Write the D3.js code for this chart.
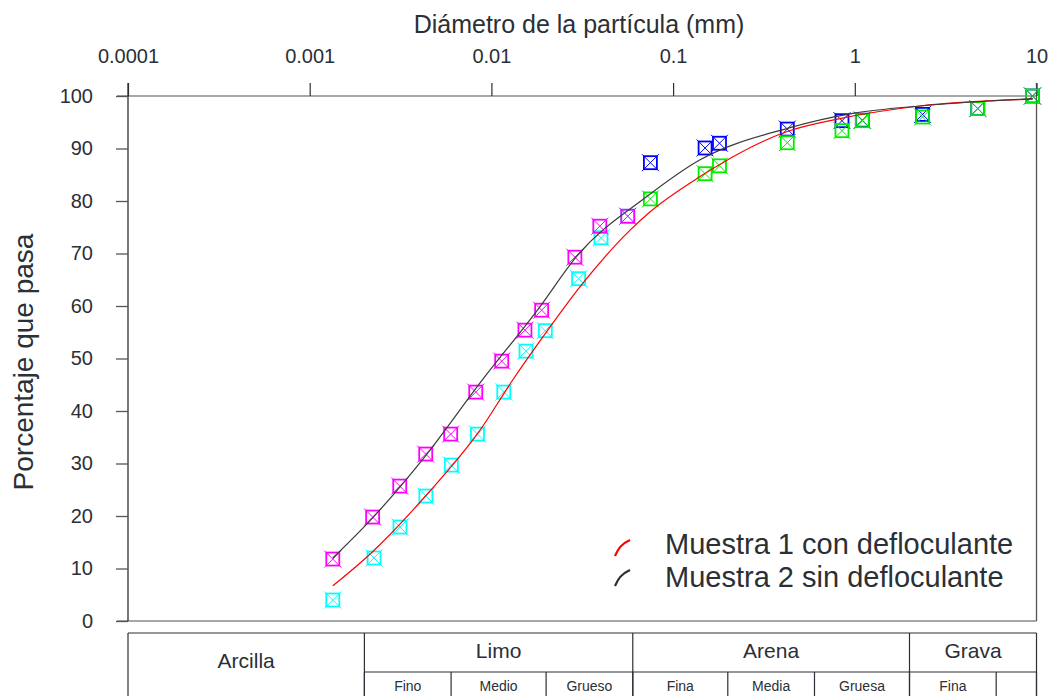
<!doctype html>
<html>
  <head>
    <meta charset="utf-8">
    <title>Curva granulométrica</title>
    <style>
      body { margin: 0; background: #fff; }
      text { font-family: "Liberation Sans", Arial, sans-serif; fill: #2b2f36; }
    </style>
  </head>
  <body>
    <div id="chart"></div>

    <script src="https://d3js.org/d3.v7.min.js"></script>
    <script>
      // tamices (mm) y porcentaje que pasa
      var sieveSizes = [0.075, 0.15, 0.18, 0.425, 0.85, 1.1, 2.36, 4.75, 9.5];
      var sievePasa1 = [80.4, 85.2, 86.7, 91.1, 93.4, 95.3, 96.0, 97.6, 100];
      var sievePasa2 = [87.3, 90.1, 91.0, 93.7, 95.3, 95.4, 96.5, 97.6, 100];

      // hidrómetro
      var hidroDiam1 = [0.00134, 0.00226, 0.00314, 0.00436, 0.00602, 0.00838, 0.0117, 0.0155, 0.0198, 0.0302, 0.0401, 0.0563];
      var hidroPasa1 = [4.0, 12.0, 17.9, 23.8, 29.7, 35.6, 43.6, 51.4, 55.3, 65.2, 73.0, 77.1];
      var hidroDiam2 = [0.00134, 0.00222, 0.00313, 0.00435, 0.00597, 0.0082, 0.0114, 0.0153, 0.0189, 0.0288, 0.0395, 0.0563];
      var hidroPasa2 = [11.8, 19.8, 25.7, 31.8, 35.6, 43.6, 49.5, 55.4, 59.2, 69.3, 75.2, 77.1];

      // curvas ajustadas
      var curvaDiam1 = [0.00134, 0.00222, 0.00439, 0.00864, 0.0131, 0.0192, 0.0318, 0.0578, 0.0745, 0.14, 0.421, 0.828, 2.28, 9.54];
      var curvaPasa1 = [6.7, 13.2, 24.0, 36.3, 45.9, 54.1, 64.3, 74.4, 77.9, 84.6, 93.2, 95.7, 98.1, 99.4];
      var curvaDiam2 = [0.00134, 0.00224, 0.00435, 0.00864, 0.01845, 0.0294, 0.0714, 0.14, 0.421, 0.975, 2.28, 4.68, 9.54];
      var curvaPasa2 = [12.0, 19.8, 31.5, 45.3, 59.8, 69.4, 80.8, 87.8, 93.8, 96.7, 98.1, 98.9, 99.5];

      var xTicks = [0.0001, 0.001, 0.01, 0.1, 1, 10];
      var xTickLabels = ['0.0001', '0.001', '0.01', '0.1', '1', '10'];
      var yTicks = [0, 10, 20, 30, 40, 50, 60, 70, 80, 90, 100];

      var legendLabels = ['Muestra 1 con defloculante', 'Muestra 2 sin defloculante'];

      // clasificación del suelo
      var grupos = ['Arcilla', 'Limo', 'Arena', 'Grava'];
      var gruposLimites = [0.0001, 0.002, 0.06, 2, 10];
      var subgrupos = ['Fino', 'Medio', 'Grueso', 'Fina', 'Media', 'Gruesa', 'Fina', ''];
      var subLimites = [0.002, 0.006, 0.02, 0.06, 0.2, 0.6, 2, 6, 10];

      var width = 1049;
      var height = 696;

      var svg = d3.select('#chart')
        .append('svg')
        .attr('width', width)
        .attr('height', height);

      var x = d3.scaleLog()
        .domain([0.0001, 10])
        .range([128, 1036.5]);

      var y = d3.scaleLinear()
        .domain([0, 100])
        .range([621, 96]);

      // marco
      svg.append('line')
        .attr('x1', 117).attr('x2', x(10))
        .attr('y1', y(100)).attr('y2', y(100))
        .attr('stroke', '#8a8a8a').attr('stroke-width', 1.5);
      svg.append('line')
        .attr('x1', 117).attr('x2', x(10))
        .attr('y1', y(0)).attr('y2', y(0))
        .attr('stroke', '#8a8a8a').attr('stroke-width', 1.5);
      svg.append('line')
        .attr('x1', x(0.0001)).attr('x2', x(0.0001))
        .attr('y1', 83).attr('y2', y(0))
        .attr('stroke', '#2b2f36').attr('stroke-width', 1.3);
      svg.append('line')
        .attr('x1', x(10)).attr('x2', x(10))
        .attr('y1', 83).attr('y2', y(0))
        .attr('stroke', '#555').attr('stroke-width', 1.3);

      var xAxis = svg.append('g')
        .attr('transform', 'translate(0,' + y(100) + ')')
        .call(d3.axisTop(x)
          .tickValues(xTicks)
          .tickFormat(function(d, i) { return xTickLabels[i]; })
          .tickSize(13)
          .tickPadding(20));
      xAxis.select('.domain').remove();
      xAxis.selectAll('line').attr('stroke', '#2b2f36').attr('stroke-width', 1.2);
      xAxis.selectAll('text').attr('font-size', 20).attr('fill', '#2b2f36');

      var yAxis = svg.append('g')
        .attr('transform', 'translate(' + x(0.0001) + ',0)')
        .call(d3.axisLeft(y)
          .tickValues(yTicks)
          .tickSize(12)
          .tickPadding(23));
      yAxis.select('.domain').remove();
      yAxis.selectAll('line').attr('stroke', '#555').attr('stroke-width', 1.3);
      yAxis.selectAll('text').attr('font-size', 20).attr('fill', '#2b2f36');

      svg.append('text')
        .attr('x', 579)
        .attr('y', 33)
        .attr('text-anchor', 'middle')
        .attr('font-size', 25)
        .text('Diámetro de la partícula (mm)');

      svg.append('text')
        .attr('transform', 'translate(33,362) rotate(-90)')
        .attr('text-anchor', 'middle')
        .attr('font-size', 28)
        .text('Porcentaje que pasa');

      // puntos
      function zipPts(ds, ps) {
        return ds.map(function(d, i) { return [d, ps[i]]; });
      }

      var markerSets = [
        { pts: zipPts(hidroDiam1, hidroPasa1), color: '#00ffff' },
        { pts: zipPts(hidroDiam2, hidroPasa2), color: '#ff00ff' },
        { pts: zipPts(sieveSizes, sievePasa2), color: '#0000ff' },
        { pts: zipPts(sieveSizes, sievePasa1), color: '#00ee00' }
      ];

      markerSets.forEach(function(set) {
        var g = svg.append('g')
          .selectAll('g')
          .data(set.pts)
          .enter()
          .append('g')
          .attr('transform', function(d) { return 'translate(' + x(d[0]) + ',' + y(d[1]) + ')'; })
          .attr('stroke', set.color)
          .attr('fill', 'none');
        g.append('rect')
          .attr('x', -6.5).attr('y', -6.5)
          .attr('width', 13).attr('height', 13)
          .attr('stroke-width', 1.8);
        g.append('path')
          .attr('d', 'M-8.5,-8.5L8.5,8.5M-8.5,8.5L8.5,-8.5')
          .attr('stroke-width', 1);
      });

      // curvas
      var line = d3.line()
        .x(function(d) { return x(d[0]); })
        .y(function(d) { return y(d[1]); })
        .curve(d3.curveMonotoneX);

      svg.append('path')
        .datum(zipPts(curvaDiam1, curvaPasa1))
        .attr('d', line)
        .attr('fill', 'none')
        .attr('stroke', '#ff0000')
        .attr('stroke-width', 1.2);

      svg.append('path')
        .datum(zipPts(curvaDiam2, curvaPasa2))
        .attr('d', line)
        .attr('fill', 'none')
        .attr('stroke', '#3a3a3a')
        .attr('stroke-width', 1.2);

      // leyenda
      var legendColors = ['#ff0000', '#2b2f36'];
      var legend = svg.append('g')
        .selectAll('g')
        .data(legendLabels)
        .enter()
        .append('g')
        .attr('transform', function(d, i) { return 'translate(615,' + (556 + i * 30) + ')'; });
      legend.append('path')
        .attr('d', 'M0,0C3,-7 6,-12 15,-16')
        .attr('fill', 'none')
        .attr('stroke', function(d, i) { return legendColors[i]; })
        .attr('stroke-width', 2.2);
      legend.append('text')
        .attr('x', 50)
        .attr('y', function(d, i) { return -2 + i * 3; })
        .attr('font-size', 29)
        .text(function(d) { return d; });

      // tabla de clasificación
      var tableTop = 633, tableMid = 672, tableBottom = 700;
      var tabla = svg.append('g')
        .attr('stroke', '#2b2f36')
        .attr('stroke-width', 1.2);
      tabla.append('line')
        .attr('x1', x(0.0001)).attr('x2', x(10))
        .attr('y1', tableTop).attr('y2', tableTop);
      tabla.append('line')
        .attr('x1', x(0.002)).attr('x2', x(10))
        .attr('y1', tableMid).attr('y2', tableMid);
      tabla.selectAll('.main')
        .data(gruposLimites)
        .enter()
        .append('line')
        .attr('class', 'main')
        .attr('x1', function(d) { return x(d); })
        .attr('x2', function(d) { return x(d); })
        .attr('y1', tableTop).attr('y2', tableBottom);
      tabla.selectAll('.sub')
        .data(subLimites)
        .enter()
        .append('line')
        .attr('class', 'sub')
        .attr('x1', function(d) { return x(d); })
        .attr('x2', function(d) { return x(d); })
        .attr('y1', tableMid).attr('y2', tableBottom);

      svg.append('g')
        .selectAll('text')
        .data(grupos)
        .enter()
        .append('text')
        .attr('x', function(d, i) { return (x(gruposLimites[i]) + x(gruposLimites[i + 1])) / 2; })
        .attr('y', function(d, i) { return i === 0 ? 668 : 658; })
        .attr('text-anchor', 'middle')
        .attr('font-size', 21)
        .text(function(d) { return d; });

      svg.append('g')
        .selectAll('text')
        .data(subgrupos)
        .enter()
        .append('text')
        .attr('x', function(d, i) { return (x(subLimites[i]) + x(subLimites[i + 1])) / 2; })
        .attr('y', 691)
        .attr('text-anchor', 'middle')
        .attr('font-size', 14)
        .text(function(d) { return d; });
    </script>
  </body>
</html>
